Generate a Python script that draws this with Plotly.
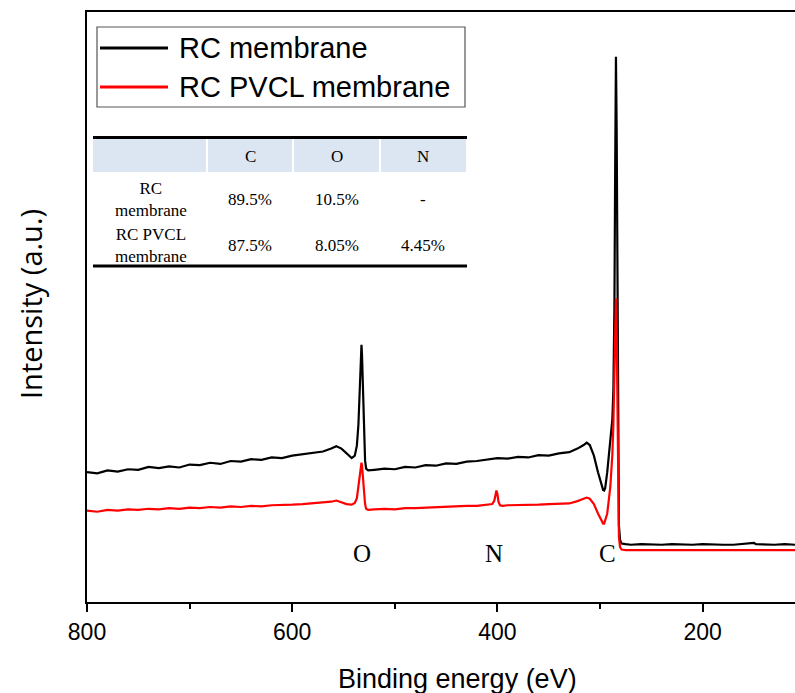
import plotly.graph_objects as go

# ---------------- data ----------------
series_names = ["RC membrane", "RC PVCL membrane"]
series_colors = ["#000000", "#ff0000"]

energy_rc = [800, 790, 780, 770, 760, 750, 740, 730, 720, 710, 700, 690, 680, 670, 660, 650,
             640, 630, 620, 610, 600, 590, 580, 570, 562, 557, 552, 547, 542, 539, 537, 535.5,
             534, 533, 532.5, 532, 531, 530, 529, 528, 526, 520, 510, 500, 490, 480, 470, 460,
             450, 440, 430, 420, 410, 400, 390, 380, 370, 360, 350, 340, 330, 322, 316, 313,
             310, 306, 302, 299, 297, 296, 295, 293, 290, 288, 287, 286, 285.2, 284.5, 283.8,
             283, 282.3, 281.6, 280.5, 279, 275, 270, 260, 250, 240, 230, 220, 210, 200, 190,
             180, 170, 160, 152, 150, 148, 140, 130, 120, 110]
intensity_rc = [22.0, 21.8, 22.3, 22.1, 22.5, 22.4, 22.9, 22.7, 23.0, 22.8, 23.3, 23.2, 23.6, 23.4,
                23.9, 23.8, 24.2, 24.1, 24.5, 24.4, 24.8, 25.0, 25.3, 25.5, 26.0, 26.4, 26.0, 25.2,
                24.4, 24.8, 26.5, 30.0, 37.0, 42.0, 43.6, 42.0, 36.0, 29.0, 24.0, 22.6, 22.3, 22.4,
                22.6, 22.5, 22.9, 22.8, 23.2, 23.1, 23.5, 23.4, 23.8, 23.9, 24.2, 24.4, 24.3, 24.6,
                24.5, 24.9, 24.8, 25.2, 25.4, 26.0, 26.6, 27.0, 26.6, 24.8, 22.0, 20.0, 19.0, 18.9,
                19.3, 22.0, 27.0, 31.0, 36.0, 50.0, 75.0, 92.4, 80.0, 50.0, 25.0, 13.0, 10.5, 9.9,
                9.8, 9.7, 9.8, 9.7, 9.7, 9.8, 9.7, 9.7, 9.8, 9.7, 9.7, 9.7, 9.8, 9.9, 10.0, 9.8,
                9.7, 9.7, 9.8, 9.7]

energy_pvcl = [800, 790, 780, 770, 760, 750, 740, 730, 720, 710, 700, 690, 680, 670, 660, 650,
               640, 630, 620, 610, 600, 590, 580, 570, 562, 557, 552, 547, 542, 539, 537, 535.5,
               534, 533, 532.5, 532, 531, 530, 529, 528, 526, 520, 510, 500, 490, 480, 470, 460,
               450, 440, 430, 420, 410, 405, 403, 402, 401, 400, 399, 397.5, 395, 390, 380, 370,
               360, 350, 340, 330, 322, 316, 313, 310, 306, 302, 299, 297, 296, 293, 290, 288,
               287, 286, 285.2, 284.5, 283.8, 283, 282.3, 281.6, 280.5, 279, 275, 270, 260, 250,
               240, 230, 220, 210, 200, 190, 180, 170, 160, 150, 140, 130, 120, 110]
intensity_pvcl = [15.5, 15.3, 15.6, 15.5, 15.7, 15.6, 15.8, 15.7, 15.9, 15.8, 16.0, 15.9, 16.1, 16.0,
                  16.2, 16.1, 16.3, 16.2, 16.4, 16.4, 16.5, 16.6, 16.7, 16.8, 17.0, 17.2, 16.9, 16.6,
                  16.5, 16.8, 17.6, 19.5, 22.0, 23.3, 23.6, 23.2, 21.0, 18.5, 16.6, 15.8, 15.6, 15.7,
                  15.8, 15.7, 15.9, 15.9, 16.0, 16.1, 16.1, 16.2, 16.3, 16.3, 16.5, 16.6, 17.2, 18.2,
                  18.9, 18.3, 17.0, 16.4, 16.3, 16.4, 16.4, 16.5, 16.5, 16.6, 16.6, 16.7, 17.1, 17.5,
                  17.7, 17.5, 16.6, 15.0, 13.8, 13.3, 13.3, 15.0, 19.5, 25.0, 30.0, 38.0, 47.0, 51.5,
                  46.0, 32.0, 18.0, 11.0, 9.3, 8.9, 8.8, 8.8, 8.9, 8.8, 8.8, 8.8, 8.9, 8.8, 8.8, 8.8,
                  8.9, 8.8, 8.8, 8.8, 8.8, 8.9, 8.8, 8.8]

table_columns = ["C", "O", "N"]
table_row_labels = ["RC<br>membrane", "RC PVCL<br>membrane"]
table_values = [["89.5%", "10.5%", "-"],
                ["87.5%", "8.05%", "4.45%"]]

peak_labels = ["O", "N", "C"]
peak_energies = [532, 403, 293]

x_ticks = [800, 600, 400, 200]

# ---------------- layout helpers ----------------
W, H = 795, 693
L, R, T, B = 87, 795, 12, 602


def px(x):
    return (x - L) / (R - L)


def py(y):
    return (B - y) / (B - T)


fig = go.Figure()
for e, v, n, c in [(energy_rc, intensity_rc, series_names[0], series_colors[0]),
                   (energy_pvcl, intensity_pvcl, series_names[1], series_colors[1])]:
    fig.add_trace(go.Scatter(x=e, y=v, mode="lines", name=n,
                             line=dict(color=c, width=2.2), showlegend=False))

shapes = []
annotations = []

# legend (manual)
shapes.append(dict(type="rect", xref="paper", yref="paper", x0=px(97), x1=px(465),
                   y0=py(107), y1=py(27), line=dict(color="#555555", width=1.2),
                   fillcolor="rgba(0,0,0,0)"))
for i, (n, c) in enumerate(zip(series_names, series_colors)):
    yy = [48, 87][i]
    shapes.append(dict(type="line", xref="paper", yref="paper", x0=px(100), x1=px(168),
                       y0=py(yy), y1=py(yy), line=dict(color=c, width=3)))
    annotations.append(dict(text=n, xref="paper", yref="paper", x=px(177), y=py(yy),
                            xanchor="left", yanchor="middle", showarrow=False,
                            font=dict(family="Liberation Sans, Arial", size=29, color="black")))

# table (manual)
col_edges = [93, 207, 293, 380, 467]
header_top, header_bot = 139, 172
for i in range(4):
    shapes.append(dict(type="rect", xref="paper", yref="paper",
                       x0=px(col_edges[i] + (1 if i > 0 else 0)), x1=px(col_edges[i + 1] - 1),
                       y0=py(header_bot), y1=py(header_top),
                       line=dict(width=0), fillcolor="#dce6f2", layer="below"))
for yy in [137.5, 266]:
    shapes.append(dict(type="line", xref="paper", yref="paper", x0=px(93), x1=px(467),
                       y0=py(yy), y1=py(yy), line=dict(color="black", width=3)))
col_centers = [151, 250, 337, 423]
tfont = dict(family="Liberation Serif, Times New Roman", size=17, color="black")
for j, h in enumerate(table_columns):
    annotations.append(dict(text=h, xref="paper", yref="paper", x=px(col_centers[j + 1]),
                            y=py(156), xanchor="center", yanchor="middle", showarrow=False,
                            font=tfont))
row_centers = [199, 246]
for i, lab in enumerate(table_row_labels):
    annotations.append(dict(text=lab, xref="paper", yref="paper", x=px(col_centers[0]),
                            y=py(row_centers[i]), xanchor="center", yanchor="middle",
                            showarrow=False, font=tfont))
    for j, v in enumerate(table_values[i]):
        annotations.append(dict(text=v, xref="paper", yref="paper", x=px(col_centers[j + 1]),
                                y=py(row_centers[i]), xanchor="center", yanchor="middle",
                                showarrow=False, font=tfont))

# peak labels
for lab, e in zip(peak_labels, peak_energies):
    annotations.append(dict(text=lab, xref="x", yref="paper", x=e, y=py(553),
                            xanchor="center", yanchor="middle", showarrow=False,
                            font=dict(family="Liberation Serif, Times New Roman", size=25,
                                      color="black")))

# axis titles
annotations.append(dict(text="Binding energy (eV)", xref="paper", yref="paper",
                        x=px(457), y=py(679), xanchor="center", yanchor="middle",
                        showarrow=False,
                        font=dict(family="Liberation Sans, Arial", size=27, color="black")))
annotations.append(dict(text="Intensity (a.u.)", xref="paper", yref="paper",
                        x=px(30), y=py(304), xanchor="center", yanchor="middle",
                        textangle=-90, showarrow=False,
                        font=dict(family="Open Sans", size=29, color="black")))

fig.update_layout(
    width=W, height=H, autosize=False,
    margin=dict(l=L, r=W - R, t=T, b=H - B, pad=0),
    plot_bgcolor="white", paper_bgcolor="white",
    shapes=shapes, annotations=annotations,
    xaxis=dict(range=[800, 110], tickvals=x_ticks, ticks="outside", ticklen=8, tickwidth=2,
               tickcolor="black", showline=True, linecolor="black", linewidth=2, mirror=True,
               showgrid=False, zeroline=False,
               tickfont=dict(family="Liberation Sans, Arial", size=23, color="black"),
               minor=dict(ticks="outside", ticklen=5, tickwidth=2, tickcolor="black",
                          dtick=100, tick0=0, showgrid=False)),
    yaxis=dict(range=[0, 100], showticklabels=False, ticks="", showline=True,
               linecolor="black", linewidth=2, mirror=False, showgrid=False, zeroline=False),
)

fig.write_html("out.html")
